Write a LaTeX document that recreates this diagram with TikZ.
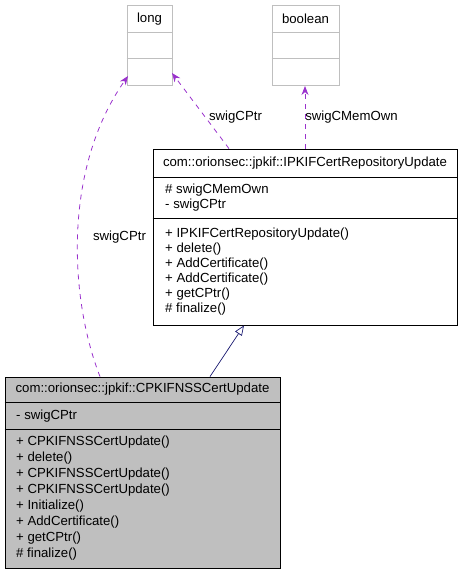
\documentclass[tikz,border=0pt]{standalone}
\usepackage{fontspec}
\setmainfont{Liberation Sans}
\usepackage{xcolor}
\usetikzlibrary{arrows.meta}
\definecolor{boxgray}{HTML}{BFBFBF}
\definecolor{edgepurple}{HTML}{9A32CD}
\definecolor{edgeblue}{HTML}{191970}

\begin{document}
\begin{tikzpicture}[x=1pt,y=-1pt,
  every node/.style={font=\fontsize{13.2}{15.7}\selectfont,inner sep=0pt},
  typebox/.style={draw=boxgray,line width=0.8pt},
  classbox/.style={draw=black,line width=0.8pt},
  usesedge/.style={edgepurple,line width=0.8pt,dash pattern=on 5pt off 5pt,-{Stealth[length=9pt,width=7pt]}},
  inheritedge/.style={edgeblue,line width=0.7pt,-{Triangle[open,length=10pt,width=8pt]}}]
\useasboundingbox (0,0) rectangle (463,573);

% the two basic types
\node[typebox,minimum width=45pt,minimum height=80pt] (long) at (149.5,45) {};
\draw[boxgray,line width=0.8pt] (long.west |- 0,32) -- (long.east |- 0,32);
\draw[boxgray,line width=0.8pt] (long.west |- 0,58) -- (long.east |- 0,58);
\node (longname) at (149.5,19) {long};

\node[typebox,minimum width=67pt,minimum height=80pt] (boolean) at (305.5,45) {};
\draw[boxgray,line width=0.8pt] (boolean.west |- 0,32) -- (boolean.east |- 0,32);
\draw[boxgray,line width=0.8pt] (boolean.west |- 0,58) -- (boolean.east |- 0,58);
\node (boolname) at (305.5,19) {boolean};

% interface class
\node[classbox,fill=white,minimum width=304pt,minimum height=176pt] (iface) at (305,237) {};
\draw[line width=0.8pt] (iface.west |- 0,177) -- (iface.east |- 0,177);
\draw[line width=0.8pt] (iface.west |- 0,218) -- (iface.east |- 0,218);
\node (ifacename) at (305,163) {com::orionsec::jpkif::IPKIFCertRepositoryUpdate};
\node[anchor=west,align=left] (ifaceattr) at (165,197.5) {\# swigCMemOwn\\- swigCPtr};
\node[anchor=west,align=left,font=\fontsize{13.2}{14.9}\selectfont] (ifaceops) at (165,271.5)
  {+ IPKIFCertRepositoryUpdate()\\+ delete()\\+ AddCertificate()\\+ AddCertificate()\\+ getCPtr()\\\# finalize()};

% implementation class
\node[classbox,fill=boxgray,minimum width=275pt,minimum height=191pt] (impl) at (142.5,472.5) {};
\draw[line width=0.8pt] (impl.west |- 0,402) -- (impl.east |- 0,402);
\draw[line width=0.8pt] (impl.west |- 0,429) -- (impl.east |- 0,429);
\node (implname) at (142.5,389) {com::orionsec::jpkif::CPKIFNSSCertUpdate};
\node[anchor=west] (implattr) at (16,416) {- swigCPtr};
\node[anchor=west,align=left,font=\fontsize{13.2}{15.95}\selectfont] (implops) at (16,498)
  {+ CPKIFNSSCertUpdate()\\+ delete()\\+ CPKIFNSSCertUpdate()\\+ CPKIFNSSCertUpdate()\\+ Initialize()\\+ AddCertificate()\\+ getCPtr()\\\# finalize()};

% end points
\coordinate (longL) at (128,76);
\coordinate (longR) at (172,73);
\coordinate (boolB) at (305,86);

% connectors
\draw[usesedge] (impl.north -| 100,0) .. controls (70,300) and (62,170) .. (longL);
\node (lblimpl) at (119.5,237) {swigCPtr};
\draw[usesedge] (iface.north -| 229,0) -- (longR);
\node (lbliface) at (235.5,117) {swigCPtr};
\draw[usesedge] (iface.north -| 305,0) -- (boolB);
\node (lblown) at (351.5,117) {swigCMemOwn};
\draw[inheritedge] (impl.north -| 210,0) -- (iface.south -| 244,0);
\end{tikzpicture}
\end{document}
